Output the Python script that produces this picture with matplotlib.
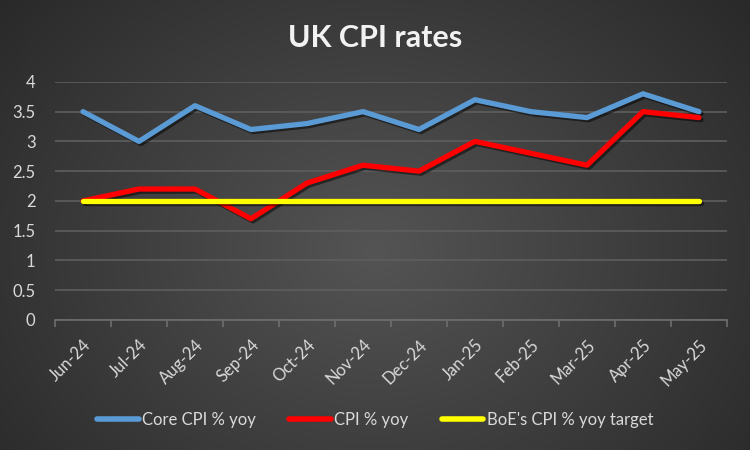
import numpy as np
import matplotlib
matplotlib.use("Agg")
import matplotlib.pyplot as plt
import matplotlib.patheffects as pe

months = ['Jun-24', 'Jul-24', 'Aug-24', 'Sep-24', 'Oct-24', 'Nov-24',
          'Dec-24', 'Jan-25', 'Feb-25', 'Mar-25', 'Apr-25', 'May-25']
core_cpi = [3.5, 3.0, 3.6, 3.2, 3.3, 3.5, 3.2, 3.7, 3.5, 3.4, 3.8, 3.5]
cpi = [2.0, 2.2, 2.2, 1.7, 2.3, 2.6, 2.5, 3.0, 2.8, 2.6, 3.5, 3.4]
boe_target = [2.0] * 12

plt.rcParams['font.family'] = ['Lato', 'DejaVu Sans']

fig = plt.figure(figsize=(7.5, 4.5), dpi=100)

# radial gradient background like Excel
bg = fig.add_axes([0, 0, 1, 1])
yy, xx = np.mgrid[0:450, 0:750]
r = np.sqrt(((xx - 375) / 520.0) ** 2 + ((yy - 250) / 420.0) ** 2)
r = np.clip(r, 0, 1)
shade = 0.33 - 0.18 * r
bg.imshow(np.dstack([shade, shade, shade]), aspect='auto', extent=[0, 1, 0, 1])
bg.axis('off')

ax = fig.add_axes([0.0733, 0.289, 0.896, 0.529])
ax.patch.set_alpha(0)

x = np.arange(len(months))
shadow = [pe.SimpleLineShadow(offset=(1.5, -1.5), shadow_color='black', alpha=0.5), pe.Normal()]
ax.plot(x, core_cpi, color='#5b9bd5', lw=3.8, solid_capstyle='round', solid_joinstyle='round',
        label='Core CPI % yoy', path_effects=shadow, zorder=3)
ax.plot(x, cpi, color='#ff0000', lw=3.8, solid_capstyle='round', solid_joinstyle='round',
        label='CPI % yoy', path_effects=shadow, zorder=3)
ax.plot(x, boe_target, color='#ffff00', lw=3.8, solid_capstyle='round', solid_joinstyle='round',
        label="BoE's CPI % yoy target", path_effects=shadow, zorder=4)

ax.set_xlim(-0.5, len(months) - 0.5)
ax.set_ylim(0, 4)
ax.set_yticks(np.arange(0, 4.01, 0.5))
ax.set_yticklabels(['0', '0.5', '1', '1.5', '2', '2.5', '3', '3.5', '4'])
ax.grid(axis='y', color='#5e5e5e', lw=1.2)
ax.set_axisbelow(True)

ax.set_xticks(x)
ax.set_xticklabels(months, rotation=45, ha='right', rotation_mode='anchor')
ax.set_xticks(np.arange(-0.5, len(months)), minor=True)
ax.tick_params(axis='x', which='major', length=0, pad=12, colors='#d9d9d9', labelsize=12)
ax.tick_params(axis='x', which='minor', length=5, color='#6e6e6e', width=1.2)
ax.tick_params(axis='y', length=0, colors='#d9d9d9', labelsize=12, pad=14)

for s in ['top', 'right', 'left']:
    ax.spines[s].set_visible(False)
ax.spines['bottom'].set_color('#6e6e6e')
ax.spines['bottom'].set_linewidth(1.2)

fig.text(0.5, 0.915, 'UK CPI rates', ha='center', va='center', color='#f2f2f2',
         fontsize=22, fontweight='bold')

leg = fig.legend(loc='center', bbox_to_anchor=(0.5, 0.067), ncol=3, frameon=False,
                 fontsize=12, handlelength=2.5, handletextpad=0.2, columnspacing=2.0)
for t in leg.get_texts():
    t.set_color('#d9d9d9')
for h in leg.get_lines():
    h.set_path_effects([])
    h.set_linewidth(4)

fig.savefig('out.png', dpi=100)
